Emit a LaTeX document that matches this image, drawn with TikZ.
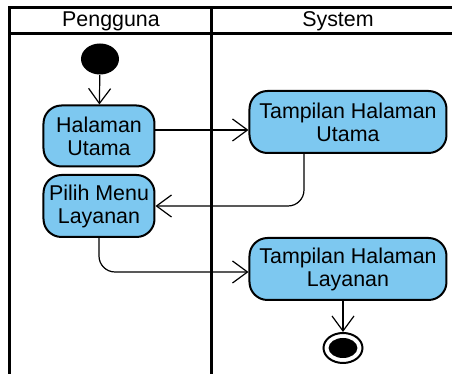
\documentclass[tikz,border=0pt]{standalone}
\usepackage{fontspec}
\setmainfont{Liberation Sans}
\usetikzlibrary{arrows.meta,shapes.geometric}
\definecolor{actblue}{RGB}{125,200,240}
\tikzset{
	activity/.style={draw, line width=1pt, fill=actblue, rounded corners=9pt, align=center, inner sep=1pt, font=\fontsize{10.7}{11.5}\selectfont},
	flow/.style={line width=0.6pt, -{Straight Barb[length=7.5pt,width=11pt]}},
	lane/.style={line width=1.5pt},
	lanetitle/.style={font=\fontsize{10.7}{11.5}\selectfont},
}
\begin{document}
\begin{tikzpicture}[x=0.5pt,y=-0.5pt]
			\useasboundingbox (0,0) rectangle (452,374);
			\draw [lane] (452,8) -| (10,374);
			\draw [lane] (10,34) -- (452,34);
			\draw [lane] (212,8) -- (212,374);
			\node (pengguna) [lanetitle] at (111,21) {Pengguna};
			\node (system) [lanetitle] at (338,21) {System};
			\node (start) [ellipse, fill=black, minimum width=19pt, minimum height=15.5pt, inner sep=0pt] at (100,59) {};
			\node (halaman) [activity, minimum width=55.5pt, minimum height=30.5pt] at (99,136) {Halaman\\Utama};
			\node (pilih) [activity, minimum width=55.5pt, minimum height=31pt] at (99,206) {Pilih Menu\\Layanan};
			\node (thutama) [activity, minimum width=98.5pt, minimum height=31pt] at (348,122) {Tampilan Halaman\\Utama};
			\node (thlayanan) [activity, minimum width=98.5pt, minimum height=31pt] at (348,269) {Tampilan Halaman\\Layanan};
			\node (final) [ellipse, draw, line width=1pt, fill=white, minimum width=19.5pt, minimum height=15pt, inner sep=0pt] at (343,348) {};
			\fill (final) ellipse (7.2pt and 5pt);
			\draw [flow] (start) -- (halaman);
			\draw [flow] ([yshift=3pt]halaman.east) -- ([yshift=3pt]halaman.east -| thutama.west);
			\draw [flow, rounded corners=8pt] ([xshift=-22pt]thutama.south) |- (pilih.east);
			\draw [flow, rounded corners=8pt] (pilih.south) |- ([yshift=-1.5pt]thlayanan.west);
			\draw [flow] (thlayanan.south -| final) -- (final);
		\end{tikzpicture}
\end{document}
